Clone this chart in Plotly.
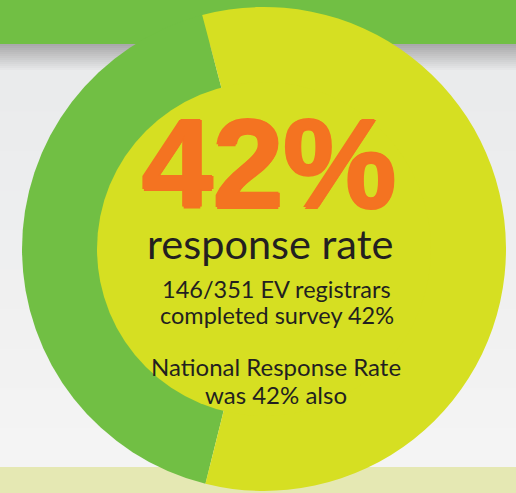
import plotly.graph_objects as go

W, H = 516, 493

# ---- data ----
categories = ["Responded", "Did not respond"]
values = [42, 58]
rate_label = "42%"
headline = "response rate"
detail_lines = ["146/351 EV registrars", "completed survey 42%",
                "National Response Rate", "was 42% also"]

GREEN = "#71BF44"
YELLOW = "#D6DF22"
ORANGE = "#F47321"
TEXT = "#231F20"

def px(x):
    return x / W

def py(y):
    return 1 - y / H

cx, cy, R, r_in = 264, 249, 242, 167

fig = go.Figure()
fig.add_trace(go.Pie(
    labels=categories, values=values, sort=False, direction="clockwise",
    rotation=194, marker=dict(colors=[GREEN, YELLOW], line=dict(width=0)),
    textinfo="none", hoverinfo="skip", showlegend=False,
    domain=dict(x=[px(cx - R), px(cx + R)], y=[py(cy + R), py(cy - R)]),
))
fig.add_trace(go.Pie(
    labels=["inner"], values=[1], sort=False,
    marker=dict(colors=[YELLOW], line=dict(width=0)),
    textinfo="none", hoverinfo="skip", showlegend=False,
    domain=dict(x=[px(cx - r_in), px(cx + r_in)], y=[py(cy + r_in), py(cy - r_in)]),
))

shapes = []
shapes.append(dict(type="rect", xref="paper", yref="paper", x0=0, x1=1, y0=py(44), y1=1,
                   fillcolor=GREEN, line=dict(width=0), layer="below"))
n = 14
g0, g1 = (170, 170, 171), (234, 235, 236)
for i in range(n):
    t = i / (n - 1)
    c = tuple(int(round(g0[k] + (g1[k] - g0[k]) * t)) for k in range(3))
    ya = 44 + i * 28 / n
    yb = ya + 28 / n + 0.5
    shapes.append(dict(type="rect", xref="paper", yref="paper", x0=0, x1=1,
                       y0=py(yb), y1=py(ya), fillcolor="rgb(%d,%d,%d)" % c,
                       line=dict(width=0), layer="below"))
n2 = 10
h0, h1 = (234, 235, 236), (244, 244, 244)
for i in range(n2):
    t = i / (n2 - 1)
    c = tuple(int(round(h0[k] + (h1[k] - h0[k]) * t)) for k in range(3))
    ya = 72 + i * 395 / n2
    yb = ya + 395 / n2 + 0.5
    shapes.append(dict(type="rect", xref="paper", yref="paper", x0=0, x1=1,
                       y0=py(min(yb, 467)), y1=py(ya), fillcolor="rgb(%d,%d,%d)" % c,
                       line=dict(width=0), layer="below"))
shapes.append(dict(type="rect", xref="paper", yref="paper", x0=0, x1=1, y0=0, y1=py(467),
                   fillcolor="#E5E8B3", line=dict(width=0), layer="below"))

def ann(text, x, y, size, family="Lato", color=TEXT, shadow=None):
    f = dict(family=family, size=size, color=color)
    if shadow:
        f["shadow"] = shadow
    return dict(text=text, x=px(x), y=py(y), xref="paper", yref="paper",
                showarrow=False, xanchor="center", yanchor="middle", font=f)

thick = ", ".join("%s %s 0 %s" % (a, b, ORANGE) for a, b in
                  [("1.5px", "0"), ("-1.5px", "0"), ("0", "1.5px"), ("0", "-1.5px")])

annotations = [
    ann("<b>%s</b>" % rate_label, 269, 163, 127, "Liberation Sans", ORANGE, thick),
    ann(headline, 270, 243, 41.5),
    ann(detail_lines[0], 276, 289, 23.5),
    ann(detail_lines[1], 277, 315, 23.5),
    ann(detail_lines[2], 276, 366, 24),
    ann(detail_lines[3], 276, 394, 24),
]

fig.update_layout(width=W, height=H, margin=dict(l=0, r=0, t=0, b=0),
                  paper_bgcolor="#EBEBEC", plot_bgcolor="rgba(0,0,0,0)",
                  shapes=shapes, annotations=annotations)
fig.write_html("out.html", config={"displayModeBar": False},
               post_script="document.body.style.margin='0';document.body.style.overflow='hidden';")
